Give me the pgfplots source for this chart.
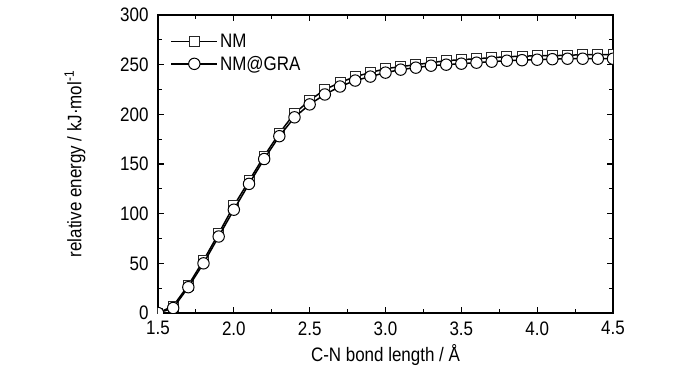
\documentclass[border=0pt]{standalone}
\usepackage{fontspec}
\setmainfont{Liberation Sans}[FakeStretch=0.87]
\usepackage{pgfplots}
\pgfplotsset{compat=1.18}
\newcommand\myf{\fontsize{19.5}{23}\selectfont}
\begin{document}
\begin{tikzpicture}
\useasboundingbox (-158pt,-60pt) rectangle (542pt,313pt);
\begin{axis}[
  at={(0pt,0pt)}, anchor=south west,
  scale only axis, width=455pt, height=298pt,
  xmin=1.5, xmax=4.5, ymin=0, ymax=300,
  xtick={1.5,2.0,...,4.5}, ytick={0,50,...,300},
  minor x tick num=1, minor y tick num=1,
  tick align=inside, tick pos=both,
  major tick length=6pt, minor tick length=4pt,
  axis line style={line width=1.4pt},
  every tick/.style={black, line width=1.1pt},
  /pgf/number format/assume math mode=true,
  xticklabel style={/pgf/number format/.cd, fixed, fixed zerofill, precision=1},
  yticklabel style={/pgf/number format/.cd, fixed, precision=0},
  xticklabel shift=5pt, yticklabel shift=6pt,
  tick label style={font=\myf},
  label style={font=\myf},
  xlabel={C-N bond length / Å},
  ylabel={relative energy / kJ·mol\textsuperscript{-1}},
  xlabel style={at={(axis description cs:0.5,-0.141)}, anchor=center},
  ylabel style={at={(axis description cs:-0.1824,0.5)}, anchor=center},
  legend style={draw=none, fill=none, at={(0.025,0.95)}, anchor=north west, font=\myf, row sep=3pt, inner xsep=1pt},
  legend cell align=left,
  legend image code/.code={\draw[mark repeat=2,mark phase=2] plot coordinates {(0pt,0pt) (23pt,0pt) (46pt,0pt)};},
  clip=true, clip marker paths=true,
]
\addplot[black, line width=1.5pt, mark=square*, mark size=5pt, mark options={fill=white, draw=black!85, line width=1pt}] coordinates {
(1.5,0) (1.6,7) (1.7,28) (1.8,53) (1.9,80) (2.0,108) (2.1,133) (2.2,158) (2.3,181) (2.4,201)
(2.5,214) (2.6,225) (2.7,232) (2.8,238) (2.9,242) (3.0,246) (3.1,248) (3.2,250) (3.3,252) (3.4,254)
(3.5,255) (3.6,256) (3.7,257) (3.8,258) (3.9,258.5) (4.0,259) (4.1,259) (4.2,259.5) (4.3,260) (4.4,260) (4.5,260)
};
\addlegendentry{NM}
\addplot[black, line width=1.5pt, mark=*, mark size=5.7pt, mark options={fill=white, draw=black, line width=1pt}] coordinates {
(1.5,0) (1.6,5) (1.7,26) (1.8,50) (1.9,77) (2.0,104) (2.1,130) (2.2,155) (2.3,178) (2.4,197)
(2.5,210) (2.6,220) (2.7,228) (2.8,234) (2.9,238) (3.0,242) (3.1,245) (3.2,247) (3.3,249) (3.4,250)
(3.5,251) (3.6,252) (3.7,253) (3.8,254) (3.9,254.5) (4.0,255) (4.1,255.5) (4.2,256) (4.3,256) (4.4,256) (4.5,256)
};
\addlegendentry{NM@GRA}
\end{axis}
\end{tikzpicture}
\end{document}
